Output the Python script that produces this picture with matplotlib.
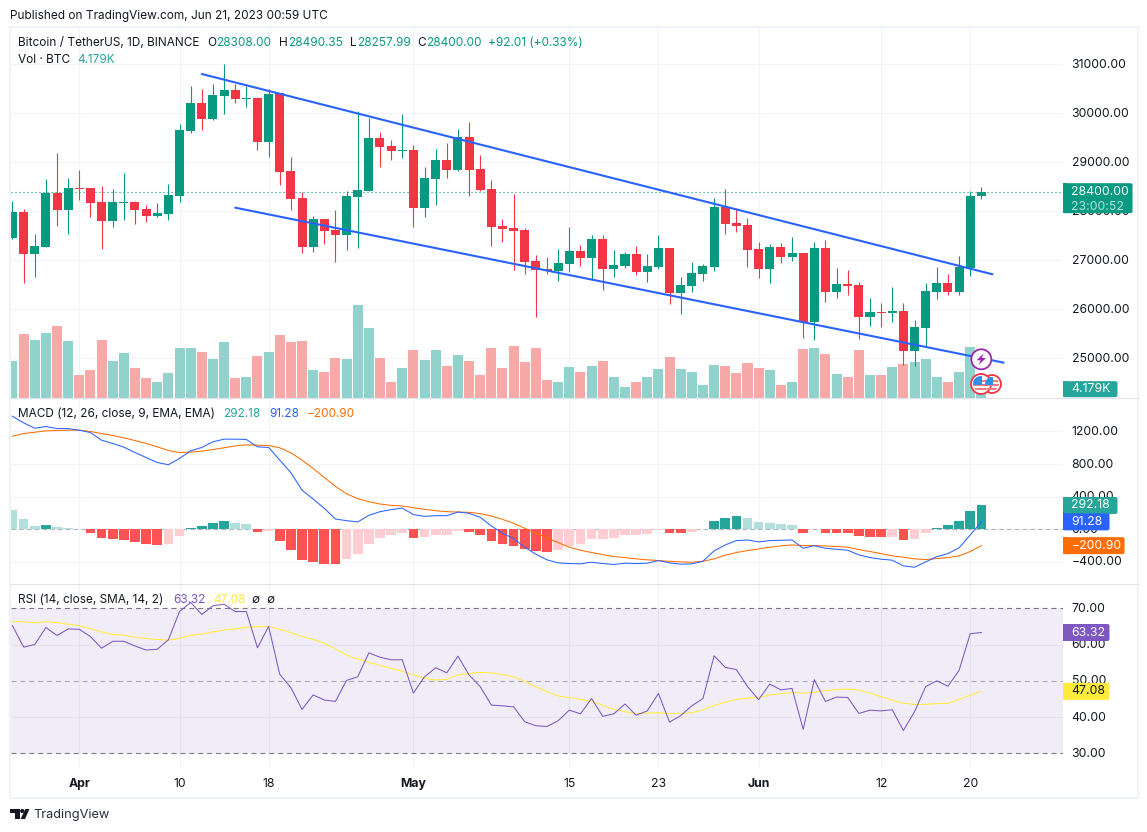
"""
BTC/USDT daily chart with volume, MACD and RSI panes, TradingView look.
"""

import numpy as np
import matplotlib
matplotlib.use("Agg")
import matplotlib.pyplot as plt
from matplotlib.patches import Circle, FancyBboxPatch, Polygon, Rectangle
from matplotlib.transforms import ScaledTranslation

# days counted from Apr 1 2023 (first visible candle is Mar 26)
first_day = -6

opens = [27455, 27986, 27129, 27272, 28374, 28026, 28475, 28475, 28190, 27802, 28176, 28190, 28047, 27904, 27945, 28312, 29639, 30210, 29884, 30353, 30476, 30299, 30312, 29414, 30408, 28822, 28272, 27272, 27843, 27618, 27516, 28292, 28414, 29496, 29333, 29237, 29251, 28067, 28659, 29047, 28843, 29516, 28863, 28455, 27700, 27659, 27618, 26986, 26822, 26782, 26925, 27190, 27047, 27435, 26822, 26884, 27129, 26761, 26863, 27251, 26333, 26476, 26720, 26863, 28088, 27761, 27720, 27231, 26822, 27272, 27067, 27149, 25741, 27251, 26353, 26516, 26496, 25843, 25945, 25924, 25965, 25149, 25618, 26353, 26537, 26353, 26843, 28308]
highs = [28210, 28047, 27537, 28659, 29190, 28680, 28843, 28475, 28516, 28455, 28782, 28210, 28129, 28169, 28557, 29782, 30557, 30496, 30598, 31006, 30598, 30557, 30333, 30489, 30414, 29108, 28394, 27904, 27843, 28026, 28414, 30047, 29904, 29618, 29455, 29986, 29353, 28904, 29272, 29394, 29680, 29823, 29149, 28639, 27843, 28353, 27659, 27108, 27067, 27231, 27680, 27312, 27516, 27516, 27210, 27170, 27292, 27129, 27516, 27251, 26659, 26965, 26925, 28272, 28455, 28067, 27863, 27373, 27333, 27353, 27476, 27149, 27373, 27414, 26843, 26802, 26557, 26231, 26128, 26455, 26128, 25781, 26537, 26863, 26720, 27088, 28414, 28490]
lows = [27435, 26537, 26659, 27272, 27700, 27537, 28231, 27884, 27231, 27680, 27823, 27741, 27782, 27884, 27823, 28190, 29598, 29659, 29863, 29986, 30210, 30129, 29251, 29108, 28537, 28026, 27149, 27170, 27333, 26965, 27210, 27251, 28414, 28904, 29047, 29088, 27680, 27884, 28129, 28680, 28822, 28312, 28414, 27292, 27373, 26802, 26720, 25843, 26720, 26578, 26761, 26884, 26598, 26394, 26659, 26843, 26700, 26557, 26822, 26108, 25904, 26353, 26578, 26782, 27537, 27578, 26863, 26639, 26537, 26945, 26986, 25414, 25373, 26149, 26231, 26292, 25394, 25659, 25639, 25741, 24863, 24843, 25230, 26210, 26292, 26292, 26680, 28258]
closes = [27986, 27129, 27292, 28374, 28026, 28475, 28462, 28169, 27802, 28190, 28190, 28026, 27904, 27965, 28333, 29659, 30210, 29884, 30374, 30476, 30292, 30312, 29414, 30394, 28802, 28251, 27272, 27843, 27598, 27516, 28312, 28435, 29496, 29312, 29231, 29251, 28067, 28680, 29047, 28843, 29516, 28843, 28435, 27680, 27639, 27598, 26965, 26802, 26775, 26945, 27190, 27047, 27435, 26822, 26904, 27129, 26761, 26884, 27251, 26333, 26496, 26741, 26884, 28088, 27741, 27700, 27210, 26822, 27272, 27067, 27149, 25741, 27251, 26353, 26516, 26476, 25843, 25945, 25924, 25965, 25149, 25639, 26373, 26537, 26353, 26863, 28308, 28400]

# volume in thousands of BTC
volumes = [41.0, 71.8, 65.0, 73.0, 80.9, 63.8, 25.1, 30.8, 65.0, 41.0, 50.2, 33.1, 21.7, 17.1, 27.4, 55.9, 55.9, 51.3, 43.3, 62.7, 21.7, 22.8, 46.7, 51.3, 70.7, 62.7, 63.8, 30.8, 29.6, 44.5, 43.3, 104.9, 78.7, 44.5, 17.1, 33.1, 53.6, 42.2, 53.6, 35.3, 47.9, 41.0, 25.1, 55.9, 33.1, 58.1, 39.9, 55.9, 19.4, 18.2, 34.2, 28.5, 35.3, 41.0, 23.9, 12.5, 18.2, 22.8, 31.9, 45.6, 31.9, 29.6, 13.7, 36.5, 35.3, 27.4, 38.8, 33.1, 30.8, 14.8, 17.1, 54.7, 55.9, 49.0, 26.2, 23.9, 53.6, 25.1, 25.1, 34.2, 37.6, 39.9, 43.3, 23.9, 18.2, 29.6, 57.0, 4.179]

macd_hist = [237, 126, 41, 53, 29, 16, 4, -45, -106, -118, -131, -155, -180, -192, -180, -82, 16, 41, 78, 102, 78, 65, -33, -25, -143, -253, -375, -400, -424, -424, -363, -302, -180, -106, -69, -45, -106, -94, -71, -69, -20, -33, -69, -143, -180, -204, -241, -265, -277, -253, -204, -180, -120, -118, -106, -70, -69, -57, -4, -45, -45, -33, 4, 102, 139, 163, 139, 90, 78, 65, 53, -45, 4, -45, -45, -45, -82, -94, -98, -94, -131, -118, -45, 16, 53, 102, 224, 292.18]
macd_line = [1387, 1306, 1240, 1261, 1236, 1236, 1216, 1187, 1093, 1053, 1008, 942, 881, 820, 792, 869, 963, 1004, 1073, 1106, 1106, 1102, 1012, 1004, 849, 694, 481, 371, 257, 126, 106, 90, 171, 216, 241, 261, 180, 159, 167, 167, 212, 196, 147, 41, -49, -114, -220, -306, -375, -412, -420, -424, -404, -420, -432, -416, -420, -416, -384, -412, -428, -424, -392, -265, -192, -139, -131, -155, -139, -135, -131, -233, -200, -233, -245, -257, -314, -347, -367, -379, -449, -465, -400, -335, -298, -228, -69, 91.28]
macd_signal = [1142, 1175, 1191, 1208, 1212, 1216, 1216, 1200, 1175, 1151, 1122, 1089, 1053, 1012, 967, 942, 947, 959, 979, 1000, 1024, 1036, 1032, 1028, 1000, 938, 849, 747, 636, 526, 437, 375, 339, 310, 294, 286, 265, 245, 228, 216, 212, 208, 192, 163, 122, 73, 12, -49, -106, -163, -220, -257, -285, -310, -335, -347, -363, -375, -384, -392, -400, -404, -392, -363, -318, -285, -261, -241, -220, -204, -192, -200, -200, -204, -212, -220, -249, -273, -298, -326, -343, -363, -371, -359, -347, -326, -273, -200.90]

rsi_line = [65.2, 59.3, 60.0, 64.7, 62.5, 64.3, 64.2, 62.2, 59.0, 60.9, 60.9, 59.6, 58.5, 58.7, 61.3, 69.1, 71.6, 68.3, 70.7, 71.1, 69.1, 69.1, 59.1, 65.0, 51.8, 48.1, 42.1, 46.1, 44.7, 44.3, 50.1, 51.1, 57.7, 56.5, 55.8, 55.8, 46.6, 51.1, 53.6, 52.2, 56.8, 51.6, 48.4, 43.3, 43.1, 42.8, 38.7, 37.6, 37.4, 39.0, 41.9, 40.9, 45.1, 40.2, 40.9, 43.6, 40.5, 41.7, 46.5, 38.6, 40.4, 43.1, 45.1, 56.9, 53.7, 53.1, 48.4, 44.8, 49.1, 47.5, 47.9, 36.6, 50.3, 44.3, 45.5, 45.4, 41.0, 41.9, 41.7, 42.0, 36.3, 41.5, 48.4, 50.0, 48.5, 52.9, 63.0, 63.32]
rsi_ma = [66.3, 66.3, 66.0, 66.3, 66.1, 65.6, 65.2, 64.4, 63.5, 62.8, 62.6, 62.0, 61.7, 61.4, 61.2, 61.7, 62.6, 62.9, 63.5, 64.0, 64.3, 64.8, 64.9, 65.0, 64.2, 63.3, 62.2, 61.4, 60.3, 58.8, 57.1, 56.0, 55.1, 54.3, 53.4, 52.6, 51.7, 50.7, 50.2, 50.4, 51.6, 52.0, 52.3, 52.2, 51.7, 51.1, 49.8, 48.4, 47.0, 45.8, 45.4, 44.9, 44.3, 43.3, 42.1, 41.5, 40.9, 41.1, 41.2, 40.9, 41.0, 41.2, 42.0, 43.2, 44.1, 44.9, 45.2, 45.4, 46.1, 46.4, 46.8, 46.6, 46.8, 47.3, 47.6, 47.7, 47.5, 46.6, 45.6, 44.7, 43.8, 43.5, 43.5, 43.7, 43.8, 44.9, 46.0, 47.08]

# channel drawn on the chart: (day, price) at both ends
upper_days, upper_prices = [11, 82], [30802, 26714]
lower_days, lower_prices = [14, 83], [28074, 24911]

time_days = [0, 9, 17, 30, 44, 52, 61, 72, 80]
time_labels = ["Apr", "10", "18", "May", "15", "23", "Jun", "12", "20"]
month_labels = ["Apr", "May", "Jun"]

price_ticks = [25000, 26000, 27000, 28000, 29000, 30000, 31000]
macd_ticks = [-400, 0, 400, 800, 1200]
rsi_ticks = [30, 40, 50, 60, 70]

W, H = 1147, 832
GREEN, RED = "#089981", "#F23645"
TEAL, BLUE, ORANGE = "#26A69A", "#2962FF", "#FF6D00"
PURPLE, YELLOW = "#7E57C2", "#FFEB3B"
GRID, TEXT = "#F0F3FA", "#131722"

plt.rcParams["font.family"] = ["Inter", "DejaVu Sans"]
plt.rcParams["font.size"] = 8.85
plt.rcParams["text.color"] = TEXT


def pane(fig, top, bottom, ylim, ticks):
    """Axes placed by pixel rows, with the price scale on the right."""
    left, right = 10.5, 1063
    ax = fig.add_axes([left / W, 1 - bottom / H, (right - left) / W, (bottom - top) / H])
    ax.set_xlim(-6.177, 88.33)
    ax.set_ylim(*ylim)
    ax.patch.set_alpha(0)
    for s in ax.spines.values():
        s.set_visible(False)
    ax.yaxis.tick_right()
    ax.set_yticks(ticks)
    ax.set_yticklabels([f"{t:.2f}".replace("-", "\u2212") for t in ticks])
    ax.tick_params(axis="y", length=0, pad=6.2, labelcolor=TEXT)
    # scale labels sit a pixel above their grid line
    for lab in ax.get_yticklabels():
        lab.set_transform(lab.get_transform() + ScaledTranslation(0, 1 / 100, fig.dpi_scale_trans))
    ax.set_xticks(time_days)
    ax.tick_params(axis="x", length=0, labelbottom=False)
    ax.set_axisbelow(True)
    ax.grid(True, color=GRID, lw=0.75, zorder=0.5)
    return ax


def tag(ov, ax, value, label, bg, width, fg="white", height=17, extra=0):
    """Value box on the price scale, centred on value in that pane."""
    y = H - ax.transData.transform((0, value))[1]
    top = y - height / 2
    ov.add_patch(FancyBboxPatch((1063, top), width, height + extra, boxstyle="round,pad=0,rounding_size=2",
                                fc=bg, ec="none", zorder=5))
    ov.add_patch(Rectangle((1063, top), 4, height + extra, fc=bg, ec="none", zorder=5))
    ov.text(1071.5, y, label, color=fg, va="center", ha="left", zorder=6)


def legend_row(ov, y, parts):
    for x, s, c in parts:
        ov.text(x, y, s, color=c, va="center", ha="left", fontsize=8.5)


def us_flag(ov, cx, cy, r):
    ov.add_patch(Circle((cx, cy), r, fc="white", ec=RED, lw=1.3, zorder=7))
    disc = Circle((cx, cy), r - 2, fc="white", ec="none", zorder=7)
    ov.add_patch(disc)
    for dy in (-3.5, 0.5, 4.5):
        bar = Rectangle((cx - r, cy + dy - 1), 2 * r, 2, fc="#F77C80", ec="none", zorder=7.1)
        ov.add_patch(bar)
        bar.set_clip_path(disc)
    canton = Rectangle((cx - r, cy - r), r + 1, r + 1, fc="#2E8FEA", ec="none", zorder=7.2)
    ov.add_patch(canton)
    canton.set_clip_path(disc)


def draw_price(ax, days):
    o, h, l, c = map(np.array, (opens, highs, lows, closes))
    up = c >= o
    ymin, ymax = ax.get_ylim()

    # volume shares the pane, 421.8K fills its full height
    vol_scale = (ymax - ymin) / 421.8
    vol_colors = np.where(up, "#92D2CC", "#F7A9A7")
    ax.bar(days, np.array(volumes) * vol_scale, bottom=ymin, width=0.9, color=vol_colors, zorder=1)

    colors = np.where(up, GREEN, RED)
    ax.vlines(days, l, h, colors=colors, lw=0.8, zorder=2)
    ax.bar(days, np.maximum(np.abs(c - o), 12), bottom=np.minimum(o, c), width=0.81, color=colors, zorder=3)

    ax.axhline(closes[-1], color=GREEN, lw=0.8, ls=(0, (1, 2.6)), zorder=2.5)
    ax.plot(upper_days, upper_prices, color=BLUE, lw=1.5, zorder=4, solid_capstyle="round")
    ax.plot(lower_days, lower_prices, color=BLUE, lw=1.5, zorder=4, solid_capstyle="round")


def draw_macd(ax, days):
    hist = np.array(macd_hist)
    prev = np.r_[hist[0], hist[:-1]]
    colors = []
    for v, p in zip(hist, prev):
        if v >= 0:
            colors.append(TEAL if v > p else "#B2DFDB")
        else:
            colors.append("#FF5252" if v <= p else "#FFCDD2")
    ax.bar(days, hist, width=0.87, color=colors, zorder=2)
    ax.axhline(0, color="#B2B5BE", lw=0.8, ls=(0, (4, 3)), zorder=1.5)
    ax.plot(days, macd_signal, color=ORANGE, lw=0.75, zorder=3)
    ax.plot(days, macd_line, color=BLUE, lw=0.75, zorder=4)


def draw_rsi(ax, days):
    ax.axhspan(30, 70, color=PURPLE, alpha=0.1, lw=0, zorder=0.2)
    # grid shows a little darker inside the band
    ax.vlines(time_days, 30, 70, color="#E5E2EF", lw=0.75, zorder=0.6)
    ax.hlines([40, 60], *ax.get_xlim(), color="#E5E2EF", lw=0.75, zorder=0.6)
    ax.axhline(70, color="#787B86", lw=0.8, ls=(0, (4.5, 3.5)), zorder=1)
    ax.axhline(30, color="#787B86", lw=0.8, ls=(0, (4.5, 3.5)), zorder=1)
    ax.axhline(50, color="#787B86", lw=0.8, ls=(0, (4.5, 3.5)), alpha=0.6, zorder=1)
    ax.plot(days, rsi_ma, color=YELLOW, lw=0.75, zorder=2)
    ax.plot(days, rsi_line, color=PURPLE, lw=0.75, zorder=3)
    ax.tick_params(axis="x", labelbottom=True, pad=6.5, labelcolor=TEXT)
    ax.set_xticklabels(time_labels)
    for lab in ax.get_xticklabels():
        if lab.get_text() in month_labels:
            lab.set_fontweight("bold")


def draw_overlay(ov, ax_price, ax_macd, ax_rsi):
    ov.add_patch(Rectangle((9.5, 26.5), 1128.5, 771, fc="none", ec=GRID, lw=1.6))
    ov.plot([10, 1138], [397.5, 397.5], color="#E0E3EB", lw=0.8)
    ov.plot([10, 1138], [583.5, 583.5], color="#E0E3EB", lw=0.8)

    ov.text(10, 16, "Published on TradingView.com, Jun 21, 2023 00:59 UTC", va="center", fontsize=8.5)

    legend_row(ov, 43, [(18, "Bitcoin / TetherUS, 1D, BINANCE", TEXT),
                        (207.5, "O", TEXT), (216.5, "28308.00", GREEN),
                        (279, "H", TEXT), (288, "28490.35", GREEN),
                        (350, "L", TEXT), (357, "28257.99", GREEN),
                        (417, "C", TEXT), (426, "28400.00", GREEN),
                        (488, "+92.01 (+0.33%)", GREEN)])
    legend_row(ov, 60, [(18, "Vol \u00b7 BTC", TEXT), (77, "4.179K", TEAL)])
    legend_row(ov, 414, [(18, "MACD (12, 26, close, 9, EMA, EMA)", TEXT), (223.5, "292.18", TEAL),
                         (269, "91.28", BLUE), (307, "\u2212200.90", ORANGE)])
    legend_row(ov, 600, [(18, "RSI (14, close, SMA, 14, 2)", TEXT), (173.5, "63.32", PURPLE),
                         (213, "47.08", YELLOW), (251, "\u2205", TEXT), (266.5, "\u2205", TEXT)])

    # scale tags
    y = H - ax_price.transData.transform((0, closes[-1]))[1]
    tag(ov, ax_price, closes[-1], "28400.00", GREEN, 69.5, height=17, extra=13)
    ov.text(1071.5, y + 15, "23:00:52", color="#B5E0D8", va="center", ha="left", zorder=6)
    tag(ov, ax_price, 24370, "4.179K", TEAL, 54.5, height=16)
    tag(ov, ax_macd, macd_hist[-1], "292.18", TEAL, 54.5)
    tag(ov, ax_macd, macd_line[-1], "91.28", BLUE, 46.5)
    tag(ov, ax_macd, macd_signal[-1], "\u2212200.90", ORANGE, 61.5)
    tag(ov, ax_rsi, rsi_line[-1], "63.32", PURPLE, 46.5)
    tag(ov, ax_rsi, rsi_ma[-1], "47.08", YELLOW, 46.5, fg=TEXT)

    # event badges near the last candle
    ov.add_patch(Circle((981.3, 359.3), 10, fc="white", ec="#9C27B0", lw=1.3, zorder=7))
    ov.add_patch(Polygon([(983.5, 353.5), (976.5, 360.3), (980.6, 360.3), (978.6, 365),
                          (986, 358), (981.8, 358)], fc="#9C27B0", ec="none", zorder=7.1))
    us_flag(ov, 992, 384, 9)
    us_flag(ov, 981, 384, 10)

    # TradingView logo
    ov.add_patch(Polygon([(10, 809), (19.5, 809), (19.5, 819), (15, 819), (15, 813), (10, 813)], fc=TEXT, ec="none"))
    ov.add_patch(Circle((22.2, 811), 2.1, fc=TEXT, ec="none"))
    ov.add_patch(Polygon([(25.3, 809), (29.5, 809), (25, 819), (20.6, 819)], fc=TEXT, ec="none"))
    ov.text(33.5, 815, "TradingView", va="center", fontsize=9.2, color="#2A2E39")


def main():
    days = np.arange(first_day, first_day + len(closes))

    fig = plt.figure(figsize=(W / 100, H / 100), dpi=100, facecolor="white")
    ax_price = pane(fig, 27, 397.5, (24200, 31761), price_ticks)
    ax_macd = pane(fig, 398, 583, (-659, 1611), macd_ticks)
    ax_rsi = pane(fig, 584, 769, (25.67, 76.7), rsi_ticks)

    draw_price(ax_price, days)
    draw_macd(ax_macd, days)
    draw_rsi(ax_rsi, days)

    ov = fig.add_axes([0, 0, 1, 1], zorder=10)
    ov.set_xlim(0, W)
    ov.set_ylim(H, 0)
    ov.axis("off")
    draw_overlay(ov, ax_price, ax_macd, ax_rsi)

    fig.savefig("out.png", dpi=100)
    plt.close(fig)


main()
